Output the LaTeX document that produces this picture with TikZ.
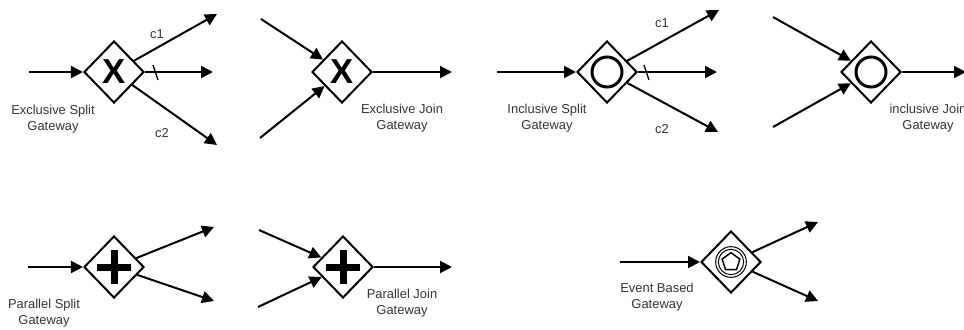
\documentclass[tikz,border=0pt]{standalone}
\usepackage{fontspec}
\setmainfont{Liberation Sans}
\usetikzlibrary{
  arrows.meta,
  shapes.geometric
}

\begin{document}
\begin{tikzpicture}[
  x=0.75pt, y=-0.75pt,
  gateway/.style={draw, diamond, line width=1.5pt, minimum width=45pt,
    minimum height=46.5pt, inner sep=0pt},
  flow/.style={line width=1.5pt, -{Triangle[length=9pt,width=9pt]}},
  tickline/.style={line width=1pt},
  lbl/.style={align=center, text=black!80, font=\fontsize{9.7}{12}\selectfont},
  xsign/.style={font=\fontsize{26}{26}\selectfont\bfseries, inner sep=0pt},
  orsign/.style={draw, circle, line width=2.25pt, minimum size=22.5pt, inner sep=0pt},
  ring/.style={draw, circle, line width=0.75pt, inner sep=0pt},
  penta/.style={draw, regular polygon, regular polygon sides=5,
    line width=1.1pt, minimum size=14pt, inner sep=0pt},
  plusbar/.style={line width=5.25pt}
  ]
\useasboundingbox (0,0) rectangle (964,329);

% exclusive split
\node[gateway] (xs) at (114,72) {};
\node[xsign] at (xs) {X};
\coordinate (xs-in) at (29,72);
\coordinate (xs-o1) at (217,14);
\coordinate (xs-o2) at (213,72);
\coordinate (xs-o3) at (217,145);
\draw[flow] (xs-in) -- (xs);
\draw[flow] (xs) -- (xs-o1);
\draw[flow] (xs.east) -- (xs-o2);
\draw[flow] (xs) -- (xs-o3);
\draw[tickline] (xs.east) ++(8,-7) -- ++(5,15);
\node[lbl] (xs-c1) at (157,34) {c1};
\node[lbl] (xs-c2) at (162,133) {c2};
\node[lbl] (xs-lbl) at (53,119) {Exclusive Split\\Gateway};

% exclusive join
\node[gateway] (xj) at (342,72) {};
\node[xsign] at (xj) {X};
\coordinate (xj-i1) at (261,19);
\coordinate (xj-i2) at (260,138);
\coordinate (xj-out) at (452,72);
\draw[flow] (xj-i1) -- (xj);
\draw[flow] (xj-i2) -- (xj);
\draw[flow] (xj.east) -- (xj-out);
\node[lbl] (xj-lbl) at (402,118) {Exclusive Join\\Gateway};

% inclusive split
\node[gateway] (is) at (607,72) {};
\node[orsign] at (is) {};
\coordinate (is-in) at (497,72);
\coordinate (is-o1) at (719,10);
\coordinate (is-o2) at (717,72);
\coordinate (is-o3) at (718,132);
\draw[flow] (is-in) -- (is);
\draw[flow] (is) -- (is-o1);
\draw[flow] (is.east) -- (is-o2);
\draw[flow] (is) -- (is-o3);
\draw[tickline] (is.east) ++(6,-7) -- ++(5,15);
\node[lbl] (is-c1) at (662,23) {c1};
\node[lbl] (is-c2) at (662,129) {c2};
\node[lbl] (is-lbl) at (547,118) {Inclusive Split\\Gateway};

% inclusive join
\node[gateway] (ij) at (871,72) {};
\node[orsign] at (ij) {};
\coordinate (ij-i1) at (773,17);
\coordinate (ij-i2) at (773,127);
\coordinate (ij-out) at (966,72);
\draw[flow] (ij-i1) -- (ij);
\draw[flow] (ij-i2) -- (ij);
\draw[flow] (ij.east) -- (ij-out);
\node[lbl] (ij-lbl) at (928,118) {inclusive Join\\Gateway};

% parallel split
\node[gateway] (ps) at (114,267) {};
\draw[plusbar] (ps) +(-17,0) -- +(17,0) (ps) +(0,-17) -- +(0,17);
\coordinate (ps-in) at (28,267);
\coordinate (ps-o1) at (214,227);
\coordinate (ps-o2) at (214,301);
\draw[flow] (ps-in) -- (ps);
\draw[flow] (ps) -- (ps-o1);
\draw[flow] (ps) -- (ps-o2);
\node[lbl] (ps-lbl) at (44,313) {Parallel Split\\Gateway};

% parallel join
\node[gateway] (pj) at (343,267) {};
\draw[plusbar] (pj) +(-17,0) -- +(17,0) (pj) +(0,-17) -- +(0,17);
\coordinate (pj-i1) at (259,230);
\coordinate (pj-i2) at (258,307);
\coordinate (pj-out) at (452,267);
\draw[flow] (pj-i1) -- (pj);
\draw[flow] (pj-i2) -- (pj);
\draw[flow] (pj.east) -- (pj-out);
\node[lbl] (pj-lbl) at (402,303) {Parallel Join\\Gateway};

% event based
\node[gateway] (eb) at (731,262) {};
\node[ring, minimum size=23pt] at (eb) {};
\node[ring, minimum size=19pt] at (eb) {};
\node[penta] at (eb) {};
\coordinate (eb-in) at (620,262);
\coordinate (eb-o1) at (818,222);
\coordinate (eb-o2) at (818,301);
\draw[flow] (eb-in) -- (eb);
\draw[flow] (eb) -- (eb-o1);
\draw[flow] (eb) -- (eb-o2);
\node[lbl] (eb-lbl) at (657,297) {Event Based\\Gateway};
\end{tikzpicture}
\end{document}
